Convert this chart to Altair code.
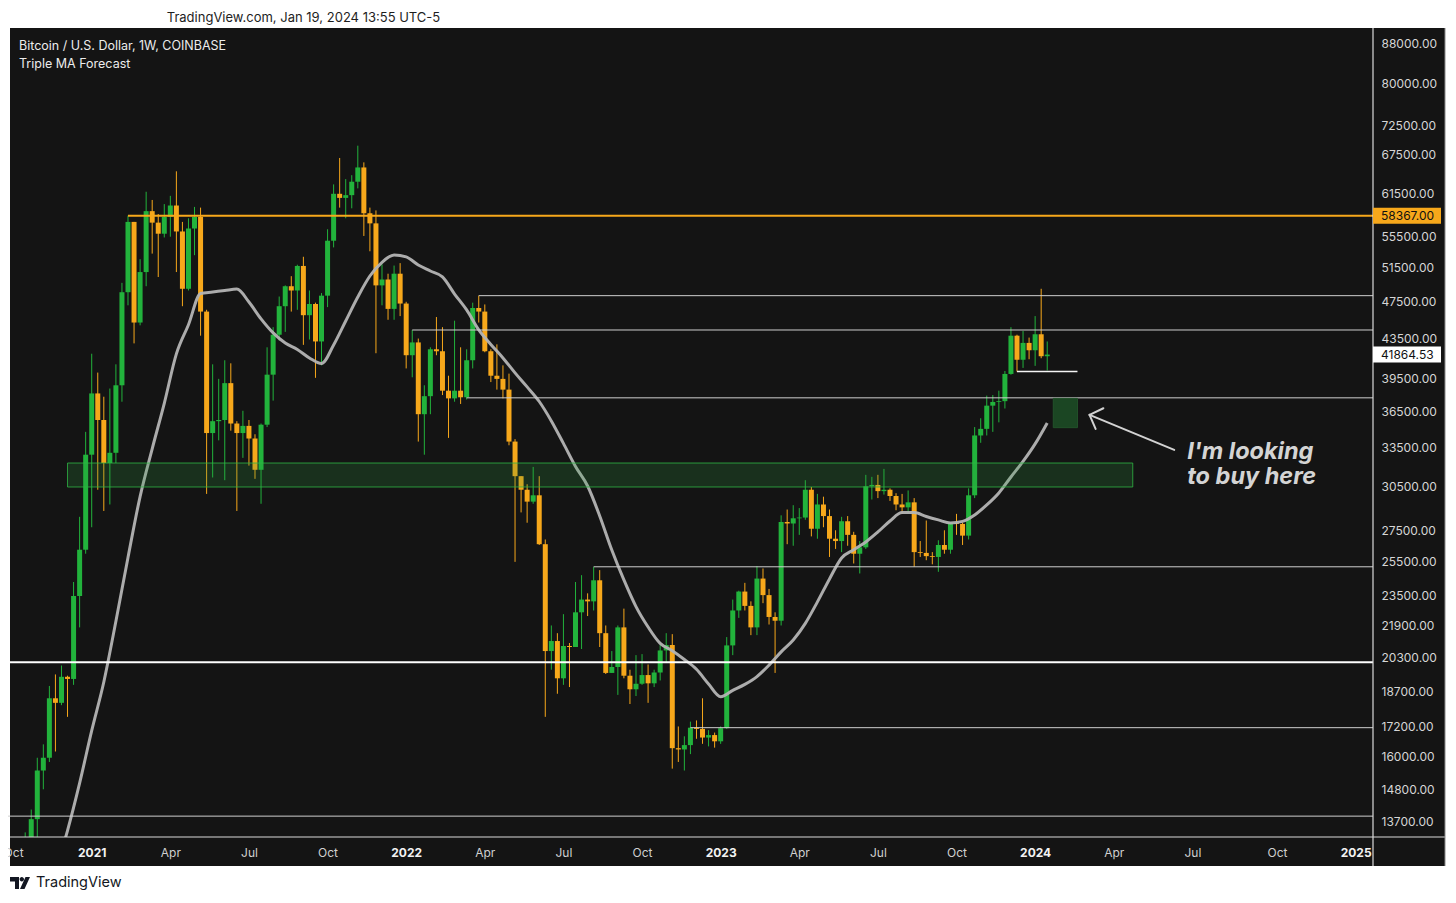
import altair as alt
import pandas as pd

# ---------------- data ----------------
WEEK_START = "2020-10-12"   # first weekly bar (Mondays, 1W)
OPEN = [11370, 11500, 13030, 13780, 15480, 15960, 18400, 18200, 19370, 19270, 23500, 26250,
        32950, 38150, 35800, 32300, 33100, 38900, 48600, 57500, 45200, 51000,
        59000, 57400, 55900, 58200, 59800, 56200, 49000, 56600, 58200, 46400,
        34700, 35700, 35800, 39100, 35500, 34700, 35300, 34250, 31780, 35400,
        39900, 43900, 47000, 49300, 48800, 51750, 46000, 47250, 43200, 48200,
        54970, 61500, 60900, 61300, 63300, 65500, 58700, 57300, 49400, 50100,
        46700, 50800, 47300, 41800, 43100, 36300, 37900, 42400, 42200, 38400,
        37700, 38400, 37800, 41300, 46800, 46400, 42200, 39800, 39500, 38500,
        34000, 31300, 30300, 29450, 29900, 26600, 20600, 21100, 19300, 20850,
        20800, 22600, 23300, 23200, 24400, 21500, 19550, 19830, 21800, 19420,
        18800, 19050, 19450, 19070, 19570, 20630, 20900, 16330, 16280, 16450,
        17150, 17100, 16750, 16850, 16600, 17130, 20880, 22700, 23750, 22950,
        21800, 24500, 23550, 22350, 22150, 28050, 27950, 28300, 28350, 30300,
        27600, 29250, 28450, 26950, 26800, 28100, 27200, 26000, 26400, 30550,
        30650, 30200, 30300, 29850, 29250, 29050, 29400, 26100, 26050, 25850,
        25800, 26550, 26250, 27980, 27920, 27150, 29900, 34500, 35050, 37050,
        37380, 37450, 39970, 43800, 41350, 43050, 42300, 43950, 41700]
HIGH = [11720, 13350, 14100, 15960, 16480, 18950, 19480, 19900, 19420, 24300, 28400, 34800,
        41950, 40100, 37850, 38600, 40900, 49700, 58367, 57500, 52600, 61800,
        60600, 58600, 60000, 61200, 64900, 57500, 58000, 59600, 59500, 46600,
        40900, 39500, 41300, 41000, 35700, 36600, 35800, 34600, 35500, 42600,
        44700, 48100, 49400, 50500, 51900, 52900, 48800, 47400, 48500, 56500,
        62900, 67000, 63700, 64300, 69000, 66300, 59500, 59100, 51950, 50800,
        51800, 52100, 47500, 44400, 43500, 38900, 42600, 45800, 44700, 39800,
        45400, 42600, 42400, 47400, 48200, 47200, 42400, 42900, 40800, 40000,
        34200, 31300, 30700, 32000, 31300, 26900, 21900, 21500, 22500, 21000,
        24300, 24700, 23650, 25200, 25000, 21900, 20600, 21900, 22800, 19700,
        20400, 20450, 19950, 19700, 20900, 21500, 21450, 17200, 16800, 17400,
        17450, 18400, 17050, 16950, 17200, 21300, 23300, 23800, 24250, 23200,
        25250, 25100, 23900, 22600, 28500, 28900, 29200, 29000, 31000, 30500,
        30000, 29800, 28900, 27500, 28400, 28450, 27400, 26800, 31400, 31250,
        31400, 31850, 30400, 30050, 30000, 30250, 29700, 26800, 28150, 26100,
        26850, 27500, 28000, 28600, 28000, 30400, 35200, 35950, 37950, 38000,
        38400, 40250, 44700, 43900, 44300, 43600, 45900, 49000, 43200]
LOW = [11200, 11400, 12980, 13200, 14800, 15800, 16200, 18100, 17600, 19000, 21800, 26000,
       27700, 30300, 28800, 29250, 32300, 37400, 47100, 43000, 44900, 49300,
       53300, 50400, 55400, 55500, 51000, 47000, 48800, 53100, 43800, 30000,
       31200, 34100, 31000, 34900, 28800, 32700, 32100, 31100, 29300, 35200,
       37500, 43300, 44200, 46400, 46600, 42850, 43400, 39600, 40800, 46900,
       54100, 59500, 58000, 59400, 62300, 55600, 53600, 42000, 47100, 45500,
       45500, 45900, 40500, 39650, 34000, 32950, 36300, 41800, 38000, 34300,
       37400, 37200, 37600, 40500, 45200, 42100, 39200, 38500, 37700, 33700,
       25500, 28700, 28000, 29300, 26550, 17600, 19700, 18600, 19000, 18900,
       20800, 20700, 22400, 22700, 20800, 19500, 19550, 18550, 19300, 18150,
       18500, 19000, 18200, 18900, 19200, 20050, 15550, 15800, 15480, 16100,
       16700, 16500, 16400, 16350, 16500, 17100, 20400, 22300, 22700, 21400,
       21400, 23100, 21950, 19550, 21900, 26600, 26500, 27200, 28200, 27100,
       26950, 27700, 25800, 26300, 26100, 26500, 25400, 24800, 26300, 29600,
       29700, 29950, 29500, 28850, 28600, 28700, 25200, 25800, 25600, 25350,
       24900, 26000, 26000, 27200, 26550, 26900, 29700, 33900, 34500, 34800,
       35600, 36800, 39900, 40200, 40550, 41400, 40750, 41500, 40300]
CLOSE = [11500, 13030, 13780, 15480, 15960, 18400, 18200, 19370, 19270, 23500, 26250, 32950,
         38150, 35800, 32300, 33100, 38900, 48600, 57500, 45200, 51000, 59000,
         57400, 55900, 58200, 59800, 56200, 49000, 56600, 58200, 46400, 34700,
         35700, 35800, 39100, 35500, 34700, 35300, 34250, 31780, 35400, 39900,
         43900, 47000, 49300, 48800, 51750, 46000, 47250, 43200, 48200, 54970,
         61500, 60900, 61300, 63300, 65500, 58700, 57300, 49400, 50100, 46700,
         50800, 47300, 41800, 43100, 36300, 37900, 42400, 42200, 38400, 37700,
         38400, 37800, 41300, 46800, 46400, 42200, 39800, 39500, 38500, 34000,
         31300, 30300, 29450, 29900, 26600, 20600, 21100, 19300, 20850, 20800,
         22600, 23300, 23200, 24400, 21500, 19550, 19830, 21800, 19420, 18800,
         19050, 19450, 19070, 19570, 20630, 20900, 16330, 16280, 16450, 17150,
         17100, 16750, 16850, 16600, 17130, 20880, 22700, 23750, 22950, 21800,
         24500, 23550, 22350, 22150, 28050, 27950, 28300, 28350, 30300, 27600,
         29250, 28450, 26950, 26800, 28100, 27200, 26000, 26400, 30550, 30650,
         30200, 30300, 29850, 29250, 29050, 29400, 26100, 26050, 25850, 25800,
         26550, 26250, 27980, 27920, 27150, 29900, 34500, 35050, 37050, 37380,
         37450, 39970, 43800, 41350, 43050, 42300, 43950, 41700, 41864.53]

# moving average line, read every two weeks
MA_START = "2020-11-23"
MA_VALUES = [12170, 13410, 15020, 17030, 19130, 22120, 25770, 29810, 33420, 37260,
             41930, 44960, 48450, 48620, 48800, 48970, 47470, 45590, 44090, 43040,
             42380, 41530, 40980, 42840, 45370, 48050, 50520, 52210, 53130, 52880,
             51870, 51130, 50410, 48390, 46580, 44410, 42890, 41530, 40070, 38750,
             37420, 35720, 33850, 32030, 30570, 28460, 26230, 24420, 22910, 21820,
             20980, 20620, 20190, 19720, 19040, 18470, 18750, 19020, 19380, 19920,
             20560, 21150, 22010, 23170, 24480, 25740, 26250, 26740, 27390, 28120,
             28690, 28690, 28420, 28190, 27990, 28090, 28530, 29220, 30070, 31240,
             32420, 33810, 35550]

# drawn levels
KEY_LEVEL = [58367.00]
KEY_LEVEL_FROM = ["2021-02-15"]
THIN_LEVELS = [48200, 44400, 37750, 25200, 17150, 13880]
THIN_FROM = ["2022-03-28", "2022-01-10", "2022-03-14", "2022-08-08", "2022-11-28", "2020-09-01"]
MAJOR_LEVEL = [20050]
SHORT_LEVEL = [40200]
SHORT_FROM = ["2023-12-11"]
SHORT_TO = ["2024-02-19"]
RAY_END = "2025-03-01"
FULL_START = "2020-09-01"

ZONE_LOW, ZONE_HIGH = [30500], [32300]
ZONE_FROM, ZONE_TO = ["2020-12-07"], ["2024-04-23"]
BUY_LOW, BUY_HIGH = [35150], [37700]
BUY_FROM, BUY_TO = ["2024-01-22"], ["2024-02-19"]

ARROW_X1 = ["2024-06-10", "2024-03-04", "2024-03-04"]
ARROW_X2 = ["2024-03-04", "2024-03-20", "2024-03-11"]
ARROW_Y1 = [33330, 36240, 36240]
ARROW_Y2 = [36240, 36820, 35040]

NOTE_TEXT = ["I'm looking", "to buy here"]
NOTE_DATE = ["2024-06-25", "2024-06-25"]
NOTE_PRICE = [32600, 30720]

LAST_PRICE = [41864.53]

Y_TICKS = [88000, 80000, 72500, 67500, 61500, 55500, 51500, 47500, 43500, 39500, 36500,
           33500, 30500, 27500, 25500, 23500, 21900, 20300, 18700, 17200, 16000, 14800, 13700]
X_TICKS = ["2020-10-05", "2021-01-04", "2021-04-05", "2021-07-05", "2021-10-04", "2022-01-03",
           "2022-04-04", "2022-07-04", "2022-10-03", "2023-01-02", "2023-04-03", "2023-07-03",
           "2023-10-02", "2024-01-01", "2024-04-01", "2024-07-01", "2024-10-07", "2025-01-06"]

TITLE = "TradingView.com, Jan 19, 2024 13:55 UTC-5"
LEGEND_1 = "Bitcoin / U.S. Dollar, 1W, COINBASE"
LEGEND_2 = "Triple MA Forecast"
BRAND = "TradingView"

# ---------------- styles ----------------
BG = "#141414"
GREEN = "#22b33c"
ORANGE = "#f7a81b"
FONT = "Inter"


def dt(s, **kw):
    y, m, d = (int(v) for v in s.split("-"))
    return alt.DateTime(year=y, month=m, date=d, utc=True, **kw)


weeks = pd.date_range(WEEK_START, periods=len(CLOSE), freq="7D").strftime("%Y-%m-%d").tolist()
candles = pd.DataFrame({"week": weeks, "open": OPEN, "high": HIGH, "low": LOW, "close": CLOSE})
ma_dates = pd.date_range(MA_START, periods=len(MA_VALUES), freq="14D").strftime("%Y-%m-%d").tolist()
ma = pd.DataFrame({"week": ma_dates, "ma": MA_VALUES})

X_SCALE = alt.Scale(type="utc", domain=[alt.DateTime(year=2020, month=10, date=4, hours=21, minutes=20, utc=True),
                                        alt.DateTime(year=2025, month=1, date=20, hours=7, utc=True)])
Y_SCALE = alt.Scale(type="log", domain=[13204, 91433], nice=False, zero=False)

year_test = "utcmonth(datum.value) == 0"
X_AXIS = alt.Axis(values=[dt(s) for s in X_TICKS],
                  labelExpr="utcmonth(datum.value) == 0 ? utcFormat(datum.value, '%Y') : utcFormat(datum.value, '%b')",
                  labelFontWeight={"condition": {"test": year_test, "value": "bold"}, "value": "normal"},
                  labelColor={"condition": {"test": year_test, "value": "#f2f2f2"}, "value": "#d0d0d0"},
                  labelFont=FONT, labelFontSize=12, labelPadding=10, ticks=False, tickSize=0,
                  domain=False, grid=False, title=None, labelOverlap=False, labelFlush=False, zindex=1)
Y_AXIS = alt.Axis(orient="right", values=Y_TICKS, format=".2f", labelFont=FONT, labelFontSize=12,
                  labelColor="#d6d6d6", labelPadding=8, ticks=False, tickSize=0, domain=False,
                  grid=False, title=None, labelOverlap=False, labelFlush=False, zindex=1)


def X(field):
    return alt.X(field, scale=X_SCALE, axis=X_AXIS)


def Y(field):
    return alt.Y(field, scale=Y_SCALE, axis=Y_AXIS)


one = pd.DataFrame({"k": [0]})
up = alt.condition(alt.datum.close >= alt.datum.open, alt.value(GREEN), alt.value(ORANGE))

panel = alt.Chart(one).mark_rect(color=BG).encode(
    x=alt.value(2), x2=alt.value(1437), y=alt.value(0), y2=alt.value(838))

wicks = alt.Chart(candles).mark_rule(strokeWidth=1, clip=True).encode(
    x=X("week:T"), y=Y("low:Q"), y2="high:Q", color=up)
bodies = alt.Chart(candles).mark_bar(size=5, clip=True).encode(
    x=X("week:T"), y=Y("open:Q"), y2="close:Q", color=up)

ma_line = alt.Chart(ma).mark_line(color="#b4b4b4", strokeWidth=3, opacity=0.95,
                                  interpolate="monotone", clip=True).encode(
    x=X("week:T"), y=Y("ma:Q"))

thin = pd.DataFrame({"start": THIN_FROM, "end": [RAY_END] * len(THIN_LEVELS), "price": THIN_LEVELS})
thin_lines = alt.Chart(thin).mark_rule(color="#cfcfcf", strokeWidth=1, clip=True).encode(
    x=X("start:T"), x2="end:T", y=Y("price:Q"))
major = pd.DataFrame({"start": [FULL_START], "end": [RAY_END], "price": MAJOR_LEVEL})
major_line = alt.Chart(major).mark_rule(color="#ffffff", strokeWidth=2, clip=True).encode(
    x=X("start:T"), x2="end:T", y=Y("price:Q"))
short = pd.DataFrame({"start": SHORT_FROM, "end": SHORT_TO, "price": SHORT_LEVEL})
short_line = alt.Chart(short).mark_rule(color="#f4f4f4", strokeWidth=1.5, clip=True).encode(
    x=X("start:T"), x2="end:T", y=Y("price:Q"))
key = pd.DataFrame({"start": KEY_LEVEL_FROM, "end": [RAY_END], "price": KEY_LEVEL})
key_line = alt.Chart(key).mark_rule(color=ORANGE, strokeWidth=2, clip=True).encode(
    x=X("start:T"), x2="end:T", y=Y("price:Q"))

zone = pd.DataFrame({"start": ZONE_FROM, "end": ZONE_TO, "lo": ZONE_LOW, "hi": ZONE_HIGH})
zone_rect = alt.Chart(zone).mark_rect(fill="#2e9e40", fillOpacity=0.2, stroke="#2fb544",
                                      strokeWidth=1, strokeOpacity=0.8, clip=True).encode(
    x=X("start:T"), x2="end:T", y=Y("lo:Q"), y2="hi:Q")
buy = pd.DataFrame({"start": BUY_FROM, "end": BUY_TO, "lo": BUY_LOW, "hi": BUY_HIGH})
buy_rect = alt.Chart(buy).mark_rect(fill="#1b4623", stroke="#22522a", strokeWidth=1, clip=True).encode(
    x=X("start:T"), x2="end:T", y=Y("lo:Q"), y2="hi:Q")

arrow = pd.DataFrame({"x1": ARROW_X1, "x2": ARROW_X2, "y1": ARROW_Y1, "y2": ARROW_Y2})
arrow_lines = alt.Chart(arrow).mark_rule(color="#d2d2d2", strokeWidth=2, strokeCap="round").encode(
    x=X("x1:T"), x2="x2:T", y=Y("y1:Q"), y2="y2:Q")

note = pd.DataFrame({"d": NOTE_DATE, "p": NOTE_PRICE, "t": NOTE_TEXT})
note_text = alt.Chart(note).mark_text(font=FONT, fontSize=23.5, fontWeight="bold", fontStyle="italic",
                                      color="#d4d4d4", align="left", baseline="alphabetic").encode(
    x=X("d:T"), y=Y("p:Q"), text="t:N")

sep_h = alt.Chart(one).mark_rule(color="#dadada", strokeWidth=1.2).encode(
    x=alt.value(2), x2=alt.value(1437), y=alt.value(809))
sep_v = alt.Chart(one).mark_rule(color="#dadada", strokeWidth=1.2).encode(
    x=alt.value(1365), y=alt.value(0), y2=alt.value(838))
edge_r = alt.Chart(one).mark_rule(color="#8a8a8a", strokeWidth=1).encode(
    x=alt.value(1437), y=alt.value(0), y2=alt.value(838))

key_tag = alt.Chart(key).mark_tick(orient="horizontal", size=68, thickness=16, color=ORANGE, opacity=1).encode(
    x=alt.value(1399), y=Y("price:Q"))
key_tag_txt = alt.Chart(key).mark_text(font=FONT, fontSize=12, color="#111111", align="left",
                                       baseline="middle").encode(
    x=alt.value(1373), y=Y("price:Q"), text=alt.Text("price:Q", format=".2f"))
last = pd.DataFrame({"price": LAST_PRICE})
last_tag = alt.Chart(last).mark_tick(orient="horizontal", size=68, thickness=16, color="#ffffff", opacity=1).encode(
    x=alt.value(1399), y=Y("price:Q"))
last_tag_txt = alt.Chart(last).mark_text(font=FONT, fontSize=12, color="#111111", align="left",
                                         baseline="middle").encode(
    x=alt.value(1373), y=Y("price:Q"), text=alt.Text("price:Q", format=".2f"))

title = alt.Chart(one).mark_text(font=FONT, fontSize=13, color="#1e1e1e", align="center",
                                 baseline="middle").encode(
    x=alt.value(295.5), y=alt.value(-10), text=alt.value(TITLE))
leg1 = alt.Chart(one).mark_text(font=FONT, fontSize=12.5, color="#ececec", align="left",
                                baseline="middle").encode(
    x=alt.value(11), y=alt.value(18), text=alt.value(LEGEND_1))
leg2 = alt.Chart(one).mark_text(font=FONT, fontSize=12.5, color="#ececec", align="left",
                                baseline="middle").encode(
    x=alt.value(11), y=alt.value(36), text=alt.value(LEGEND_2))

LOGO_PATH = ("M -1 -0.6 L -0.1 -0.6 L -0.1 0.6 L -0.5 0.6 L -0.5 -0.15 L -1 -0.15 Z "
             "M 0.4 -0.38 A 0.22 0.22 0 1 1 -0.04 -0.38 A 0.22 0.22 0 1 1 0.4 -0.38 Z "
             "M 0.55 -0.6 L 1 -0.6 L 0.45 0.6 L 0 0.6 Z")
logo = alt.Chart(one).mark_point(shape=LOGO_PATH, filled=True, size=400, color="#131722",
                                 opacity=1, strokeWidth=0).encode(
    x=alt.value(12), y=alt.value(855))
brand = alt.Chart(one).mark_text(font=FONT, fontSize=14.5, color="#131722", align="left",
                                 baseline="middle").encode(
    x=alt.value(28), y=alt.value(854.5), text=alt.value(BRAND))

chart = alt.layer(
    panel, wicks, bodies, ma_line, thin_lines, major_line, short_line, key_line,
    zone_rect, buy_rect, arrow_lines, note_text, sep_h, sep_v, edge_r,
    key_tag, key_tag_txt, last_tag, last_tag_txt, title, leg1, leg2, logo, brand
).properties(
    width=1365, height=809,
    padding={"left": 0, "top": 20, "right": 75, "bottom": 53},
    autosize=alt.AutoSizeParams(type="none"),
).configure(background="white").configure_view(strokeWidth=0)

chart.save("out.html", embed_options={"renderer": "svg", "actions": False})
